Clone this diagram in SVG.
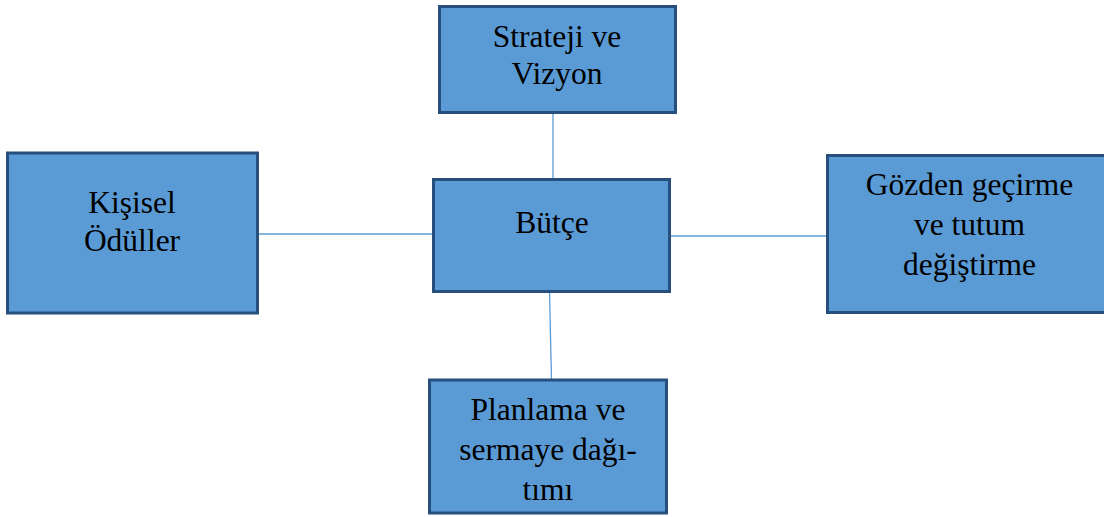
<svg xmlns="http://www.w3.org/2000/svg" width="1104" height="517" viewBox="0 0 1104 517">
<style>
.box{fill:#5b9bd5;stroke:#264f7e;stroke-width:3}
.lbl{font-family:"Liberation Serif","Times New Roman",serif;font-size:31.5px;fill:#000;text-anchor:middle}
.conn{stroke:#5b9bd5;stroke-width:1.3;fill:none}
</style>
<rect width="1104" height="517" fill="#fff"/>
<g id="connectors">
<line class="conn" x1="553" y1="112" x2="553" y2="179"/>
<line class="conn" x1="258" y1="234" x2="433" y2="234"/>
<line class="conn" x1="670" y1="236" x2="827" y2="236"/>
<line class="conn" x1="549.5" y1="292" x2="551.5" y2="380"/>
</g>
<g id="strateji">
<rect class="box" x="439.5" y="6.5" width="236" height="106"/>
<text class="lbl" x="557" y="47">Strateji ve</text>
<text class="lbl" x="557" y="83.5">Vizyon</text>
</g>
<g id="butce">
<rect class="box" x="433.5" y="179.5" width="236" height="112"/>
<text class="lbl" x="552" y="233">Bütçe</text>
</g>
<g id="kisisel">
<rect class="box" x="7.5" y="153" width="250" height="160"/>
<text class="lbl" x="132" y="213">Kişisel</text>
<text class="lbl" x="132" y="250.5">Ödüller</text>
</g>
<g id="gozden">
<rect class="box" x="827.5" y="155.5" width="285" height="157"/>
<text class="lbl" x="969.5" y="195">Gözden geçirme</text>
<text class="lbl" x="969.5" y="235">ve tutum</text>
<text class="lbl" x="969.5" y="275">değiştirme</text>
</g>
<g id="planlama">
<rect class="box" x="429.5" y="380" width="237" height="133"/>
<text class="lbl" x="548" y="420">Planlama ve</text>
<text class="lbl" x="548" y="460">sermaye dağı-</text>
<text class="lbl" x="548" y="500">tımı</text>
</g>
</svg>
